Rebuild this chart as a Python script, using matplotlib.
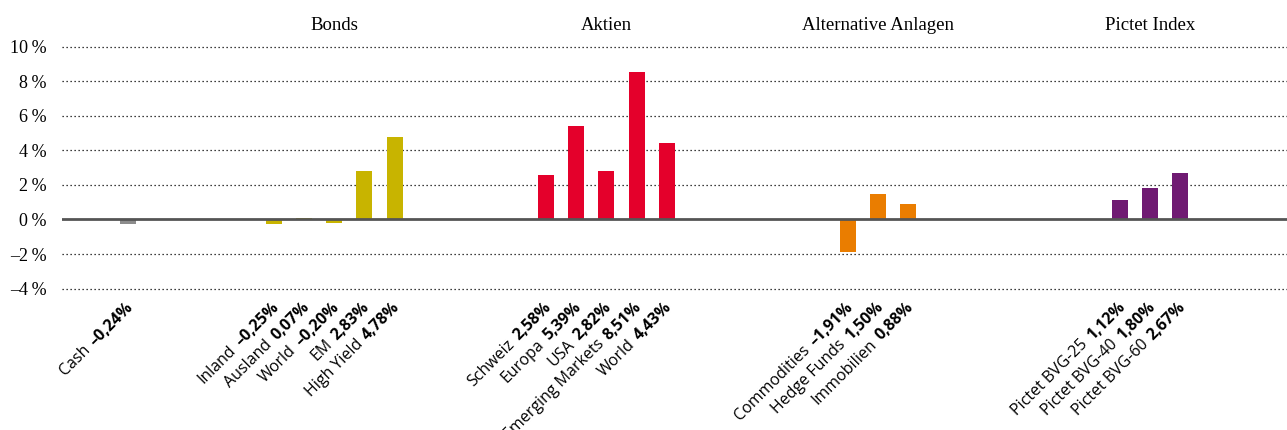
import matplotlib
matplotlib.use("Agg")
import matplotlib.pyplot as plt
from matplotlib.font_manager import FontProperties
import numpy as np

# ---- data ----
groups = ["", "Bonds", "Aktien", "Alternative Anlagen", "Pictet Index"]
cash_names = ["Cash"]
cash_vals = [-0.24]
bond_names = ["Inland", "Ausland", "World", "EM", "High Yield"]
bond_vals = [-0.25, 0.07, -0.20, 2.83, 4.78]
equity_names = ["Schweiz", "Europa", "USA", "Emerging Markets", "World"]
equity_vals = [2.58, 5.39, 2.82, 8.51, 4.43]
alt_names = ["Commodities", "Hedge Funds", "Immobilien"]
alt_vals = [-1.91, 1.50, 0.88]
index_names = ["Pictet BVG-25", "Pictet BVG-40", "Pictet BVG-60"]
index_vals = [1.12, 1.80, 2.67]
yticks = [-4, -2, 0, 2, 4, 6, 8, 10]

# ---- style ----
colors = ["#8c8c8c", "#c8b400", "#e4002b", "#ea7d00", "#6f1a72"]
group_starts = [0.0, 4.83, 13.84, 23.84, 32.85]

names_all = [cash_names, bond_names, equity_names, alt_names, index_names]
vals_all = [cash_vals, bond_vals, equity_vals, alt_vals, index_vals]

fig = plt.figure(figsize=(12.87, 4.30), dpi=100)
ax = fig.add_axes([62 / 1287, 1 - 288.6 / 430, 1 - 62 / 1287, (288.6 - 46.7) / 430])
ax.set_xlim(-2.185, 38.38)
ax.set_ylim(-4, 10)

for y in yticks:
    if y != 0:
        ax.axhline(y, color="black", lw=0.9, ls=(0, (1, 2.2)), zorder=1, clip_on=False)

sans = "Open Sans"
fp_reg = FontProperties(family=sans, size=11.5)
fp_bold = FontProperties(family=sans, size=11.5, weight="bold")

fig.canvas.draw()
renderer = fig.canvas.get_renderer()
px2pt = 72.0 / fig.dpi

def fmt(v):
    s = f"{v:.2f}".replace(".", ",").replace("-", "\u2013")
    return s + "%"

for gi, (names, vals) in enumerate(zip(names_all, vals_all)):
    xs = group_starts[gi] + np.arange(len(vals))
    ax.bar(xs, vals, width=0.53, color=colors[gi], zorder=2)
    if groups[gi]:
        ax.text(xs.mean(), 11.25, groups[gi], ha="center", va="center",
                family="Liberation Serif", fontsize=13.5, clip_on=False)
    for x, n, v in zip(xs, names, vals):
        vs = fmt(v)
        ax.annotate(vs, xy=(x, -4.95), xycoords="data",
                    xytext=(2.0, 0), textcoords="offset points",
                    rotation=45, rotation_mode="anchor", ha="right", va="center",
                    fontproperties=fp_bold, annotation_clip=False)
        w, h, d = renderer.get_text_width_height_descent(vs, fp_bold, ismath=False)
        shift = (w + 6.0) * px2pt
        ax.annotate(n, xy=(x, -4.95), xycoords="data",
                    xytext=(2.0 - shift / np.sqrt(2), -shift / np.sqrt(2)),
                    textcoords="offset points",
                    rotation=45, rotation_mode="anchor", ha="right", va="center",
                    fontproperties=fp_reg, annotation_clip=False)

ax.axhline(0, color="#555555", lw=2.0, zorder=3)

ax.set_yticks(yticks)
ax.set_yticklabels([(f"{t}\u2009%").replace("-", "\u2013") for t in yticks],
                   family="Liberation Serif", fontsize=13)
ax.tick_params(axis="y", length=0, pad=11)
ax.set_xticks([])
for s in ax.spines.values():
    s.set_visible(False)

fig.savefig("out.png", dpi=100)
